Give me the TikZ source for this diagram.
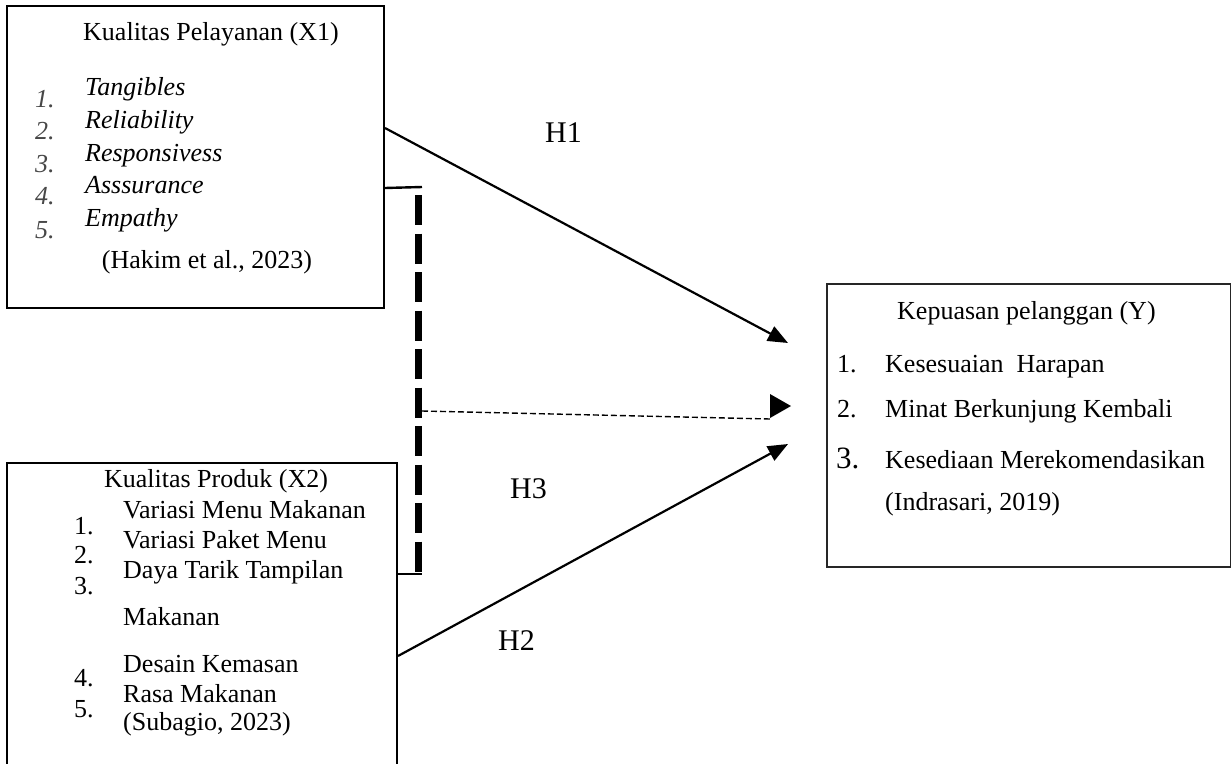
\documentclass[tikz,border=0pt]{standalone}
\usepackage{fontspec}
\setmainfont{Liberation Serif}
\usetikzlibrary{arrows.meta}
\tikzset{
  box/.style={draw, line width=2pt, inner sep=0pt, anchor=north west},
  txt/.style={inner sep=0pt, font=\fontsize{26}{30}\selectfont},
  hlab/.style={inner sep=0pt, font=\fontsize{30}{34}\selectfont},
  numg/.style={inner sep=0pt, text=black!72, font=\fontsize{26}{30}\selectfont\itshape},
  conn/.style={line width=2.2pt, -{Triangle[length=20pt,width=16pt]}},
  plain/.style={line width=2.4pt},
  thickdash/.style={line width=7pt, dash pattern=on 30pt off 8.5pt},
  thindash/.style={line width=1.4pt, dash pattern=on 6pt off 3pt}
}
\begin{document}
\begin{tikzpicture}[x=1pt,y=-1pt]
\useasboundingbox (0,0) rectangle (1231,763);
% boxes
\node[box, minimum width=377pt, minimum height=302pt] (x1) at (6,5) {};
\node[box, minimum width=390pt, minimum height=320pt] (x2) at (6,462) {};
\node[box, line width=1.6pt, draw=black!85, minimum width=404pt, minimum height=283pt] (y) at (826,283) {};
% X1 text
\node[txt, anchor=base] (x1t) at (211,40) {Kualitas Pelayanan (X1)};
\node[numg, anchor=base west] (n11) at (35,107) {1.};
\node[numg, anchor=base west] (n12) at (35,139) {2.};
\node[numg, anchor=base west] (n13) at (35,172) {3.};
\node[numg, anchor=base west] (n14) at (35,204) {4.};
\node[numg, anchor=base west] (n15) at (35,238) {5.};
\node[txt, anchor=base west] (i11) at (85,95) {\textit{Tangibles}};
\node[txt, anchor=base west] (i12) at (85,128) {\textit{Reliability}};
\node[txt, anchor=base west] (i13) at (85,161) {\textit{Responsivess}};
\node[txt, anchor=base west] (i14) at (85,193) {\textit{Asssurance}};
\node[txt, anchor=base west] (i15) at (85,226) {\textit{Empathy}};
\node[txt, anchor=base] (c1) at (207,268) {(Hakim et al., 2023)};
% X2 text
\node[txt, anchor=base] (x2t) at (216,487) {Kualitas Produk (X2)};
\node[txt, anchor=base west] (n21) at (74,534) {1.};
\node[txt, anchor=base west] (n22) at (74,563) {2.};
\node[txt, anchor=base west] (n23) at (74,594) {3.};
\node[txt, anchor=base west] (n24) at (74,686) {4.};
\node[txt, anchor=base west] (n25) at (74,717) {5.};
\node[txt, anchor=base west] (i21) at (123,518) {Variasi Menu Makanan};
\node[txt, anchor=base west] (i22) at (123,548) {Variasi Paket Menu};
\node[txt, anchor=base west] (i23) at (123,578) {Daya Tarik Tampilan};
\node[txt, anchor=base west] (i23b) at (123,625) {Makanan};
\node[txt, anchor=base west] (i24) at (123,672) {Desain Kemasan};
\node[txt, anchor=base west] (i25) at (123,702) {Rasa Makanan};
\node[txt, anchor=base west] (c2) at (123,730) {(Subagio, 2023)};
% Y text
\node[txt, anchor=base west] (yt) at (897,319) {Kepuasan pelanggan (Y)};
\node[txt, anchor=base west] (n31) at (837,372) {1.};
\node[txt, anchor=base west] (n32) at (837,417) {2.};
\node[inner sep=0pt, font=\fontsize{31}{34}\selectfont, anchor=base west] (n33) at (836,468) {3.};
\node[txt, anchor=base west] (i31) at (885,372) {Kesesuaian\ \ Harapan};
\node[txt, anchor=base west] (i32) at (885,417) {Minat Berkunjung Kembali};
\node[txt, anchor=base west] (i33) at (885,468) {Kesediaan Merekomendasikan};
\node[txt, anchor=base west] (c3) at (885,510) {(Indrasari, 2019)};
% hypothesis labels
\node[hlab, anchor=base west] (h1) at (545,142) {H1};
\node[hlab, anchor=base west] (h3) at (510,498) {H3};
\node[hlab, anchor=base west] (h2) at (498,650) {H2};
% connector end points
\coordinate (e1) at (788,343);
\coordinate (e2) at (788,444);
\coordinate (dtop) at (418,195);
\coordinate (dbot) at (418,573);
\coordinate (ltop) at (422,187);
\coordinate (lbot) at (422,574);
\coordinate (hs) at (422,411);
\coordinate (he) at (770,419);
\coordinate (ha) at (770,394);
\coordinate (hb) at (791,406);
\coordinate (hc) at (770,418);
% connectors
\draw[conn] ([yshift=29pt]x1.east) -- (e1);
\draw[conn] ([yshift=-33pt]x2.east) -- (e2);
\draw[plain] ([yshift=-31pt]x1.east) -- (ltop);
\draw[plain] ([yshift=-112pt]x2.north east) -- (lbot);
\draw[thickdash] (dtop) -- (dbot);
\draw[thindash] (hs) -- (he);
\fill (ha) -- (hb) -- (hc) -- cycle;
\end{tikzpicture}
\end{document}
